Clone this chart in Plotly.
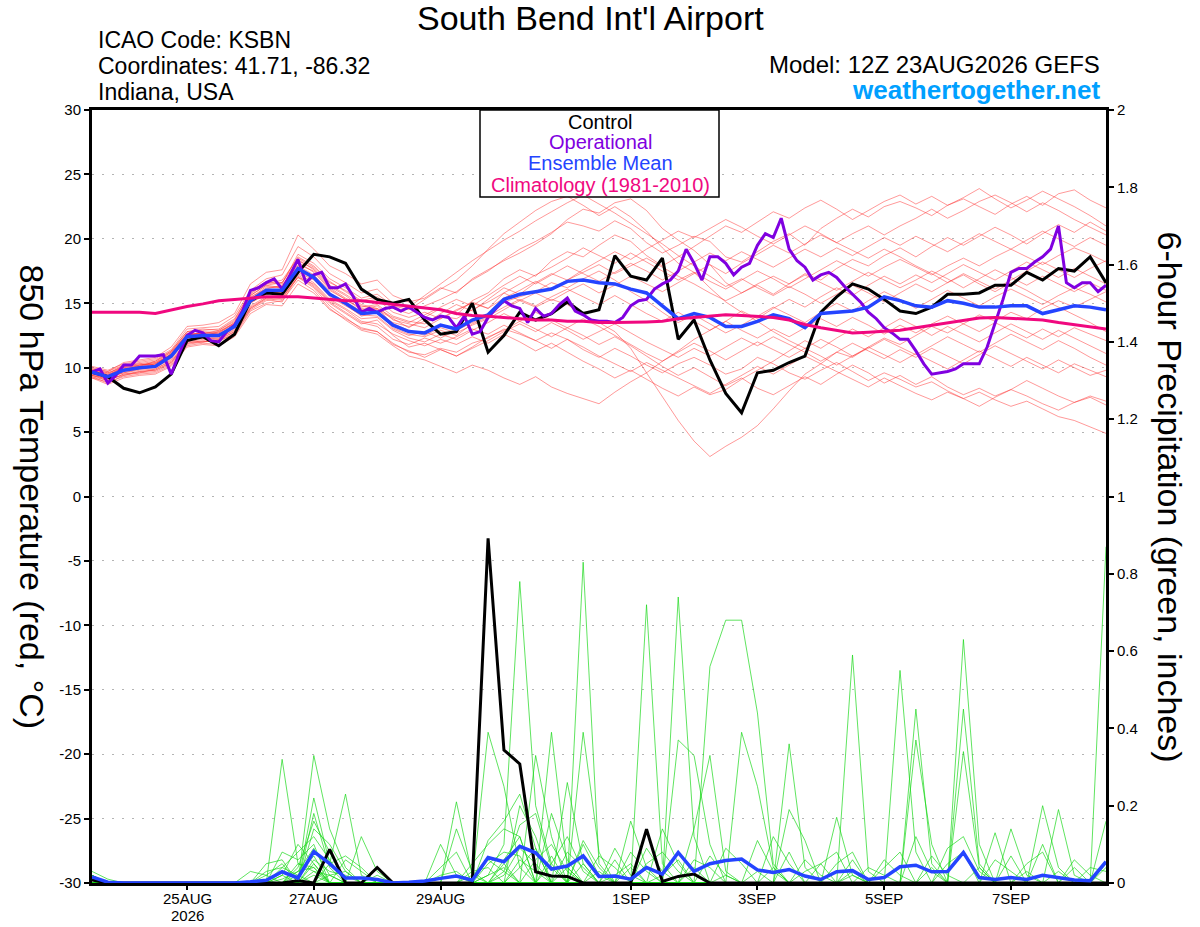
import pandas as pd
import plotly.graph_objects as go

times = pd.date_range("2026-08-23 12:00", periods=65, freq="6h")
times_op = pd.date_range("2026-08-23 12:00", periods=129, freq="3h")

# 850 hPa temperature (C), ensemble members
t_members = [
    [9.8, 9.5, 10.2, 10.4, 10.6, 11.3, 12.8, 12.9, 13.0, 13.8, 15.8, 16.5, 16.8,
     18.5, 17.8, 16.6, 16.0, 15.2, 15.5, 14.6, 14.2, 14.8, 15.3, 15.9, 16.8, 17.5,
     18.4, 19.2, 19.8, 20.5, 21.3, 21.0, 20.6, 21.4, 20.8, 19.7, 18.9, 19.5, 20.2,
     19.8, 18.6, 18.2, 19.0, 19.8, 20.4, 19.5, 20.8, 21.6, 22.3, 21.7, 22.5, 22.9,
     22.4, 21.8, 22.6, 23.1, 22.5, 21.9, 22.7, 23.3, 22.6, 23.5, 23.8, 23.0, 22.4],
    [9.4, 9.0, 9.5, 9.7, 9.8, 10.4, 11.8, 12.0, 12.1, 12.6, 14.5, 15.2, 15.4,
     17.0, 16.2, 14.8, 13.9, 13.0, 12.8, 11.9, 11.2, 11.0, 11.5, 11.2, 11.9, 12.3,
     13.0, 12.6, 12.1, 12.7, 12.2, 11.4, 10.8, 11.5, 10.9, 10.2, 9.6, 10.3, 10.8,
     10.2, 9.5, 9.9, 10.8, 10.3, 9.6, 9.1, 9.8, 10.4, 9.7, 9.0, 9.6, 9.1,
     8.5, 8.9, 8.2, 7.6, 8.1, 7.5, 7.0, 7.4, 6.8, 6.2, 5.9, 5.4, 4.9],
    [9.7, 9.2, 9.9, 10.1, 10.3, 11.0, 12.6, 12.4, 12.8, 13.4, 15.4, 16.3, 16.2,
     18.2, 17.4, 16.1, 15.3, 14.6, 14.2, 13.5, 13.2, 13.6, 14.0, 13.8, 14.5, 15.1,
     15.8, 15.2, 14.7, 15.3, 14.9, 14.1, 13.5, 12.8, 11.5, 9.6, 7.8, 5.9, 4.3,
     3.1, 3.9, 4.6, 5.5, 6.8, 8.2, 9.5, 10.3, 11.2, 10.8, 11.6, 12.3, 11.8,
     12.5, 13.2, 12.7, 13.4, 14.1, 13.6, 14.3, 13.8, 14.6, 15.2, 14.7, 15.3, 15.9],
    [10.0, 9.7, 10.4, 10.6, 10.8, 11.6, 13.2, 13.3, 13.5, 14.2, 16.5, 17.4, 17.6,
     20.3, 19.2, 17.9, 17.3, 16.5, 16.8, 15.6, 15.1, 15.4, 16.2, 15.8, 16.9, 17.6,
     18.3, 18.9, 19.6, 20.4, 21.5, 22.3, 22.0, 22.8, 23.1, 22.2, 20.8, 19.9, 19.1,
     18.0, 16.6, 15.8, 16.4, 15.7, 16.5, 17.3, 16.8, 17.7, 18.4, 17.9, 18.7, 19.3,
     18.6, 19.4, 20.1, 19.5, 20.2, 20.9, 20.3, 19.6, 20.4, 21.1, 20.5, 21.3, 20.6],
    [9.3, 8.8, 9.4, 9.6, 9.7, 10.3, 11.9, 12.1, 12.0, 12.7, 14.6, 15.3, 15.1,
     17.1, 16.3, 15.0, 14.2, 13.4, 13.7, 12.5, 11.6, 11.9, 11.4, 10.9, 11.6, 12.4,
     12.9, 13.6, 13.0, 12.4, 13.1, 12.5, 11.8, 12.4, 11.7, 10.9, 10.1, 9.4, 10.0,
     9.3, 8.6, 9.2, 8.4, 7.9, 8.6, 9.3, 8.7, 9.5, 10.2, 9.6, 8.8, 9.4,
     8.7, 9.3, 8.5, 7.9, 8.4, 7.8, 8.3, 9.0, 8.4, 7.8, 7.3, 7.7, 7.1],
    [9.9, 9.6, 10.1, 10.3, 10.2, 11.1, 12.5, 12.7, 12.6, 13.3, 15.5, 16.1, 16.4,
     18.0, 17.5, 16.2, 15.4, 14.8, 14.5, 13.8, 13.1, 13.9, 14.6, 14.1, 15.2, 15.8,
     16.9, 17.6, 17.1, 18.3, 19.0, 18.6, 19.5, 20.3, 19.8, 18.7, 17.9, 18.6, 19.4,
     20.2, 21.0, 20.5, 21.3, 22.1, 21.6, 22.4, 23.0, 22.3, 21.5, 22.2, 22.9, 23.4,
     22.7, 23.3, 22.6, 23.2, 23.9, 23.1, 22.4, 23.0, 23.7, 23.1, 22.5, 21.8, 21.0],
    [9.5, 9.1, 9.7, 9.9, 10.0, 10.7, 12.2, 12.3, 12.2, 13.0, 15.0, 15.7, 15.9,
     17.4, 16.8, 15.6, 14.9, 14.0, 14.3, 13.1, 12.6, 12.4, 12.9, 12.5, 13.4, 13.9,
     15.1, 15.5, 15.9, 16.6, 16.2, 16.9, 17.5, 16.8, 15.9, 15.2, 14.3, 13.5, 14.1,
     13.4, 12.7, 13.3, 14.0, 14.7, 14.1, 13.5, 14.3, 15.0, 14.4, 15.2, 15.9, 15.3,
     14.6, 15.3, 16.0, 15.4, 14.8, 15.5, 16.1, 15.5, 14.9, 15.6, 16.2, 15.7, 15.1],
    [9.6, 9.4, 9.8, 10.2, 10.4, 11.2, 12.7, 12.6, 12.9, 13.6, 15.7, 16.6, 16.5,
     18.8, 18.1, 16.9, 16.2, 15.4, 15.7, 14.8, 14.5, 15.3, 16.1, 16.8, 17.9, 19.2,
     20.4, 21.3, 22.2, 22.9, 23.3, 22.6, 21.8, 22.5, 21.7, 20.6, 19.3, 18.1, 17.4,
     16.2, 15.1, 14.3, 13.6, 12.8, 12.1, 11.5, 12.2, 11.6, 10.9, 11.5, 12.2, 11.6,
     11.0, 11.7, 12.4, 11.8, 11.2, 11.9, 12.6, 12.0, 11.4, 12.1, 11.5, 10.8, 10.2],
    [9.2, 8.9, 9.3, 9.5, 9.6, 10.2, 11.7, 11.9, 11.8, 12.5, 14.4, 15.0, 15.2,
     16.8, 16.0, 14.6, 13.7, 12.9, 12.6, 11.7, 10.9, 10.6, 10.1, 9.6, 10.2, 9.8,
     9.2, 8.7, 9.3, 8.5, 8.0, 7.6, 7.2, 8.1, 8.9, 9.6, 10.5, 11.3, 12.2,
     12.9, 13.6, 14.4, 13.8, 14.6, 15.3, 14.7, 15.5, 16.2, 15.6, 16.4, 17.1, 16.5,
     17.2, 16.6, 17.3, 18.0, 17.4, 16.8, 17.5, 18.2, 17.6, 17.0, 17.7, 17.1, 16.5],
    [9.8, 9.6, 10.0, 10.2, 10.4, 11.0, 12.4, 12.8, 12.7, 13.5, 15.3, 16.2, 16.3,
     17.9, 17.2, 16.0, 15.3, 14.5, 14.8, 13.7, 13.4, 13.1, 13.8, 14.4, 15.1, 14.6,
     15.8, 16.5, 17.2, 17.8, 18.5, 19.3, 18.7, 18.1, 18.9, 18.2, 17.5, 16.8, 17.4,
     16.7, 16.1, 16.8, 17.5, 16.9, 16.2, 16.9, 17.6, 18.3, 17.7, 17.1, 17.8, 18.4,
     17.8, 17.2, 17.9, 18.5, 17.9, 18.6, 19.2, 18.6, 18.0, 18.7, 19.3, 18.8, 18.2],
    [9.4, 9.2, 9.6, 9.8, 9.9, 10.6, 12.0, 12.2, 12.3, 12.9, 14.8, 15.5, 15.6,
     17.3, 16.6, 15.3, 14.6, 13.8, 13.9, 12.9, 12.3, 12.0, 12.6, 12.2, 12.9, 13.5,
     14.2, 13.6, 14.3, 13.7, 13.1, 13.8, 13.2, 12.5, 11.8, 11.1, 10.5, 11.2, 11.9,
     11.3, 10.6, 11.3, 12.0, 11.4, 10.8, 11.5, 10.9, 10.2, 10.9, 11.6, 11.0, 10.4,
     11.1, 10.5, 9.9, 10.6, 11.3, 10.7, 10.1, 10.8, 10.2, 9.6, 10.3, 9.8, 9.3],
    [9.7, 9.4, 10.0, 10.1, 10.5, 11.2, 12.6, 12.5, 12.7, 13.4, 15.6, 16.4, 16.2,
     18.4, 17.6, 16.3, 15.6, 14.7, 14.9, 14.0, 13.6, 13.4, 14.2, 14.9, 14.4, 15.3,
     16.2, 15.7, 16.6, 17.3, 16.8, 17.6, 18.3, 19.0, 18.4, 19.2, 19.9, 20.6, 20.1,
     20.8, 21.5, 20.9, 20.2, 19.6, 20.3, 21.0, 20.4, 19.7, 19.1, 18.5, 19.2, 18.6,
     17.9, 17.3, 16.6, 17.2, 16.5, 15.9, 16.6, 16.0, 15.3, 14.7, 14.1, 13.5, 12.8],
    [9.3, 9.0, 9.5, 9.6, 9.9, 10.5, 11.9, 12.0, 12.2, 12.8, 14.7, 15.4, 15.3,
     17.2, 16.4, 15.1, 14.3, 13.5, 13.2, 12.2, 11.8, 12.3, 11.9, 12.4, 13.0, 12.6,
     13.3, 12.7, 12.1, 11.5, 12.2, 11.6, 10.9, 10.3, 9.7, 10.4, 9.8, 9.2, 8.6,
     8.0, 8.7, 9.4, 10.1, 9.5, 10.2, 10.9, 10.3, 9.7, 9.1, 8.5, 9.2, 8.6,
     8.0, 7.5, 8.1, 7.6, 7.0, 7.7, 8.3, 7.8, 7.2, 6.7, 7.3, 7.8, 7.4],
    [10.1, 9.8, 10.3, 10.5, 10.7, 11.4, 13.0, 13.1, 13.2, 14.0, 16.0, 16.9, 17.2,
     19.4, 18.6, 17.3, 16.6, 15.8, 16.1, 15.0, 14.7, 15.6, 16.5, 17.4, 18.3, 19.1,
     19.9, 20.6, 21.4, 22.1, 22.8, 23.4, 22.7, 22.0, 21.2, 20.4, 19.6, 18.7, 17.9,
     17.1, 16.3, 16.9, 16.2, 15.6, 16.3, 15.7, 15.0, 15.7, 16.4, 15.8, 15.1, 15.8,
     16.5, 15.9, 16.6, 17.3, 16.7, 16.1, 16.8, 17.5, 18.2, 17.6, 17.0, 17.7, 18.3],
    [9.5, 9.3, 9.6, 9.9, 10.1, 10.8, 12.3, 12.4, 12.3, 13.1, 15.1, 15.8, 15.8,
     17.5, 16.9, 15.5, 14.8, 14.1, 14.0, 13.0, 12.5, 12.8, 12.3, 12.9, 13.5, 14.0,
     14.7, 15.3, 14.8, 15.5, 16.1, 15.5, 14.9, 15.6, 14.9, 14.2, 13.6, 14.3, 13.6,
     12.9, 13.6, 12.9, 12.3, 13.0, 12.4, 13.1, 13.8, 13.2, 13.9, 13.3, 12.6, 13.3,
     12.7, 13.4, 14.0, 13.4, 12.8, 13.5, 12.9, 12.3, 13.0, 12.4, 13.1, 12.6, 12.1],
    [9.6, 9.5, 9.9, 10.0, 10.3, 11.0, 12.5, 12.6, 12.6, 13.3, 15.2, 16.0, 16.1,
     17.6, 17.1, 15.8, 15.1, 14.4, 14.6, 13.4, 12.9, 12.5, 13.1, 12.7, 13.3, 13.8,
     14.5, 15.2, 15.8, 15.2, 15.9, 16.5, 15.8, 16.4, 17.1, 16.5, 15.9, 16.6, 17.3,
     18.0, 17.3, 18.1, 18.8, 19.5, 18.9, 19.6, 20.3, 19.7, 20.4, 21.0, 20.3, 21.0,
     21.6, 22.3, 21.6, 22.2, 22.9, 23.4, 22.8, 22.1, 22.8, 22.2, 21.5, 20.9, 20.3],
    [9.4, 9.1, 9.4, 9.7, 9.8, 10.4, 12.1, 12.0, 12.1, 12.8, 14.6, 15.4, 15.5,
     17.0, 16.5, 15.2, 14.5, 13.6, 13.4, 12.6, 12.1, 11.7, 12.2, 11.8, 12.4, 11.9,
     12.6, 12.0, 11.3, 11.9, 11.2, 10.5, 9.9, 9.2, 9.8, 9.1, 8.4, 7.8, 8.5,
     7.9, 8.3, 9.1, 9.8, 10.5, 11.3, 12.1, 11.5, 12.3, 13.0, 12.4, 13.1, 13.8,
     13.2, 12.5, 13.2, 12.6, 12.0, 12.7, 13.4, 12.8, 12.2, 12.9, 12.3, 11.7, 11.1],
    [9.9, 9.7, 10.2, 10.3, 10.5, 11.3, 12.8, 13.0, 12.9, 13.7, 15.9, 16.7, 16.6,
     18.6, 17.9, 16.7, 15.9, 15.1, 15.3, 14.3, 13.9, 14.3, 13.8, 14.5, 15.0, 14.6,
     15.4, 16.0, 16.7, 16.1, 16.8, 17.4, 18.0, 17.3, 17.9, 18.5, 17.8, 17.1, 16.5,
     15.8, 15.2, 15.8, 16.5, 17.1, 16.5, 17.2, 16.6, 16.0, 16.7, 17.4, 16.8, 16.2,
     16.8, 17.5, 16.9, 16.2, 16.9, 17.6, 17.0, 16.4, 17.1, 16.5, 15.9, 16.6, 16.0],
    [9.2, 8.7, 9.2, 9.4, 9.5, 10.1, 11.6, 11.8, 11.7, 12.4, 14.2, 14.9, 14.8,
     16.5, 15.8, 14.5, 13.8, 13.1, 12.8, 11.8, 11.3, 10.8, 11.4, 10.9, 11.5, 12.1,
     12.8, 13.4, 12.8, 13.5, 12.9, 12.2, 12.8, 13.4, 12.7, 12.0, 11.4, 10.8, 11.5,
     10.9, 11.6, 12.3, 11.7, 12.4, 11.8, 11.2, 10.5, 11.2, 11.9, 11.3, 10.7, 11.4,
     10.8, 11.5, 10.9, 10.3, 11.0, 11.7, 11.1, 10.5, 9.9, 10.6, 10.0, 9.4, 9.8],
    [9.8, 9.4, 10.1, 10.2, 10.3, 11.1, 12.6, 12.7, 12.8, 13.5, 15.6, 16.4, 16.6,
     18.3, 17.7, 16.4, 15.7, 14.9, 14.6, 13.9, 13.5, 14.1, 14.7, 15.3, 14.8, 15.6,
     16.4, 17.1, 16.5, 17.2, 17.9, 17.3, 16.7, 17.4, 18.1, 17.5, 16.8, 17.5, 18.2,
     18.9, 18.3, 19.0, 18.4, 17.8, 18.5, 19.2, 18.6, 19.3, 18.7, 19.4, 20.1, 19.5,
     20.2, 19.6, 19.0, 19.7, 20.4, 19.8, 19.2, 19.9, 20.6, 20.0, 19.4, 20.1, 19.5],
]

# 6-hour precipitation (inches), ensemble members
p_members = [
    [0.03, 0.01, 0, 0, 0, 0, 0, 0, 0, 0, 0, 0, 0.32,
     0.05, 0.04, 0, 0, 0, 0, 0, 0, 0, 0, 0, 0, 0.02,
     0.1, 0.78, 0.2, 0.05, 0, 0, 0, 0, 0, 0, 0, 0, 0,
     0, 0.02, 0, 0, 0, 0, 0, 0, 0, 0.06, 0, 0, 0,
     0, 0, 0, 0.63, 0.1, 0, 0, 0, 0, 0, 0, 0, 0],
    [0.02, 0, 0, 0, 0, 0, 0, 0, 0, 0, 0, 0, 0,
     0, 0.33, 0.14, 0.04, 0, 0, 0, 0, 0, 0, 0.21, 0.02, 0,
     0, 0, 0, 0, 0, 0.83, 0.05, 0, 0, 0, 0, 0, 0,
     0, 0, 0, 0, 0, 0.36, 0.04, 0, 0, 0, 0, 0, 0,
     0, 0, 0, 0, 0, 0, 0, 0, 0, 0, 0, 0, 0.87],
    [0.01, 0, 0, 0, 0, 0, 0, 0, 0, 0, 0, 0.05, 0.06,
     0, 0.22, 0.05, 0.23, 0.02, 0, 0, 0, 0, 0, 0, 0, 0.39,
     0.25, 0.04, 0, 0, 0, 0, 0, 0, 0, 0.72, 0.05, 0, 0,
     0, 0, 0, 0, 0, 0, 0, 0, 0, 0, 0, 0, 0.55,
     0.08, 0, 0, 0, 0, 0, 0, 0, 0, 0, 0, 0, 0],
    [0, 0, 0, 0, 0, 0, 0, 0, 0, 0, 0, 0, 0,
     0.04, 0.16, 0.08, 0, 0.12, 0.03, 0, 0, 0, 0, 0, 0, 0,
     0, 0, 0.33, 0.12, 0, 0, 0, 0, 0, 0, 0, 0.74, 0.12,
     0, 0, 0, 0, 0, 0, 0, 0, 0, 0, 0, 0, 0,
     0.45, 0.05, 0, 0, 0, 0, 0, 0, 0.2, 0.04, 0, 0, 0],
    [0.02, 0, 0, 0, 0, 0, 0, 0, 0, 0, 0, 0, 0.08,
     0.06, 0.1, 0, 0, 0, 0, 0, 0, 0, 0.1, 0.02, 0, 0,
     0, 0, 0, 0.39, 0.04, 0, 0, 0, 0, 0, 0, 0, 0,
     0.56, 0.68, 0.68, 0.44, 0.05, 0, 0, 0, 0, 0.02, 0, 0, 0,
     0, 0, 0, 0, 0, 0, 0, 0, 0, 0, 0, 0, 0],
    [0, 0, 0, 0, 0, 0, 0, 0, 0, 0, 0.03, 0.02, 0,
     0, 0.14, 0.1, 0.03, 0, 0, 0, 0, 0, 0, 0.14, 0.03, 0,
     0, 0.2, 0.12, 0, 0, 0.39, 0.08, 0, 0, 0, 0, 0, 0,
     0, 0, 0, 0, 0, 0, 0, 0, 0, 0.59, 0.03, 0, 0,
     0, 0, 0, 0, 0, 0.13, 0, 0, 0, 0, 0, 0, 0],
    [0, 0, 0, 0, 0, 0, 0, 0, 0, 0, 0, 0, 0.04,
     0.08, 0.12, 0.06, 0, 0, 0, 0, 0, 0, 0, 0, 0, 0,
     0.06, 0.12, 0, 0, 0.26, 0.05, 0, 0, 0, 0, 0, 0, 0,
     0, 0, 0.39, 0.25, 0.04, 0, 0, 0, 0, 0, 0, 0, 0,
     0, 0, 0, 0.45, 0.05, 0, 0, 0, 0, 0, 0, 0, 0.16],
    [0, 0, 0, 0, 0, 0, 0, 0, 0, 0, 0, 0.02, 0.05,
     0, 0.18, 0.04, 0, 0, 0.02, 0, 0, 0, 0, 0, 0, 0.11,
     0.16, 0.23, 0.09, 0, 0, 0, 0, 0, 0.16, 0.04, 0, 0.37, 0.33,
     0.1, 0, 0, 0, 0, 0, 0, 0, 0.17, 0.02, 0, 0, 0,
     0, 0, 0, 0, 0, 0, 0, 0, 0, 0.19, 0.02, 0, 0],
    [0, 0, 0, 0, 0, 0, 0, 0, 0, 0, 0, 0, 0,
     0.03, 0.09, 0.02, 0, 0, 0, 0, 0, 0, 0.04, 0.08, 0, 0,
     0, 0, 0, 0.18, 0.06, 0, 0, 0.09, 0.02, 0, 0.14, 0.05, 0,
     0, 0, 0, 0, 0, 0.19, 0.11, 0, 0, 0, 0, 0, 0,
     0.37, 0.1, 0, 0, 0, 0, 0.14, 0.02, 0, 0, 0, 0, 0],
    [0, 0, 0, 0, 0, 0, 0, 0, 0, 0, 0, 0, 0,
     0, 0.06, 0.03, 0.02, 0, 0, 0, 0, 0, 0, 0, 0.05, 0.1,
     0.14, 0.12, 0, 0, 0, 0.1, 0.02, 0, 0, 0, 0, 0, 0.14,
     0.33, 0.03, 0, 0, 0, 0, 0, 0, 0, 0, 0, 0, 0,
     0, 0, 0, 0.34, 0.04, 0, 0, 0, 0, 0, 0, 0, 0],
    [0.02, 0, 0, 0, 0, 0, 0, 0, 0, 0, 0, 0, 0.02,
     0.1, 0.05, 0, 0, 0, 0, 0, 0, 0, 0, 0, 0, 0,
     0.03, 0.15, 0.18, 0.04, 0, 0, 0, 0, 0.08, 0.03, 0, 0, 0,
     0, 0, 0, 0, 0.12, 0.05, 0, 0, 0, 0, 0, 0.04, 0.08,
     0, 0, 0, 0, 0, 0, 0, 0, 0.1, 0, 0, 0, 0],
    [0, 0, 0, 0, 0, 0, 0, 0, 0, 0, 0, 0, 0,
     0, 0.03, 0.02, 0, 0, 0, 0, 0, 0, 0, 0, 0, 0.05,
     0.08, 0.07, 0, 0, 0, 0.11, 0.04, 0, 0, 0, 0, 0, 0,
     0, 0, 0, 0.11, 0.03, 0, 0, 0, 0.05, 0.08, 0, 0, 0,
     0, 0, 0, 0, 0, 0, 0, 0, 0, 0, 0.06, 0.02, 0],
    [0, 0, 0, 0, 0, 0, 0, 0, 0, 0, 0, 0, 0.01,
     0.03, 0.04, 0, 0, 0, 0, 0, 0, 0, 0, 0, 0, 0,
     0, 0, 0.06, 0.1, 0.03, 0, 0, 0, 0, 0.05, 0.08, 0.03, 0,
     0, 0, 0, 0, 0, 0, 0.06, 0.02, 0, 0, 0, 0, 0,
     0, 0, 0.09, 0.12, 0.03, 0, 0, 0, 0, 0, 0, 0, 0],
    [0.01, 0, 0, 0, 0, 0, 0, 0, 0, 0, 0, 0, 0,
     0, 0, 0.05, 0.07, 0.04, 0, 0, 0, 0, 0, 0, 0, 0,
     0.02, 0.09, 0.05, 0, 0, 0, 0.07, 0.04, 0, 0, 0, 0, 0,
     0, 0.09, 0.05, 0, 0, 0, 0, 0, 0, 0, 0, 0, 0,
     0, 0.07, 0.02, 0, 0, 0, 0, 0.05, 0.08, 0, 0, 0, 0],
    [0, 0, 0, 0, 0, 0, 0, 0, 0, 0, 0, 0, 0,
     0.02, 0.07, 0, 0, 0, 0, 0, 0, 0, 0, 0, 0.03, 0.04,
     0, 0, 0, 0.05, 0.12, 0.03, 0, 0, 0, 0, 0, 0, 0.06,
     0.04, 0, 0, 0, 0, 0, 0, 0, 0, 0, 0.04, 0.02, 0,
     0, 0, 0, 0, 0, 0.06, 0.03, 0, 0, 0, 0, 0.04, 0.03],
    [0, 0, 0, 0, 0, 0, 0, 0, 0, 0, 0, 0.03, 0.04,
     0.02, 0, 0, 0, 0, 0, 0, 0, 0, 0, 0, 0, 0,
     0, 0.04, 0.09, 0, 0, 0, 0, 0.02, 0.05, 0, 0, 0, 0,
     0, 0, 0, 0.03, 0, 0, 0, 0.05, 0.08, 0, 0, 0, 0,
     0, 0, 0, 0, 0.04, 0, 0, 0, 0, 0, 0, 0, 0.05],
    [0, 0, 0, 0, 0, 0, 0, 0, 0, 0, 0, 0, 0,
     0, 0.02, 0, 0.06, 0.03, 0, 0, 0, 0, 0.02, 0.03, 0, 0,
     0.05, 0, 0, 0, 0.08, 0.04, 0, 0, 0, 0, 0.02, 0.06, 0,
     0, 0, 0, 0, 0, 0.08, 0, 0, 0, 0, 0, 0, 0,
     0.12, 0.03, 0, 0, 0, 0, 0, 0, 0, 0.03, 0, 0, 0],
    [0.02, 0, 0, 0, 0, 0, 0, 0, 0, 0, 0, 0, 0,
     0.05, 0.03, 0, 0, 0, 0, 0, 0, 0, 0, 0, 0, 0.02,
     0.04, 0, 0, 0.07, 0, 0, 0.03, 0, 0, 0.09, 0.03, 0, 0,
     0, 0, 0, 0, 0.04, 0, 0, 0, 0, 0, 0, 0.06, 0.02,
     0, 0, 0, 0, 0, 0, 0.07, 0, 0, 0, 0, 0, 0],
    [0, 0, 0, 0, 0, 0, 0, 0, 0, 0, 0, 0, 0,
     0, 0, 0.02, 0.03, 0, 0, 0, 0, 0, 0, 0, 0, 0,
     0, 0.06, 0.03, 0, 0, 0.05, 0, 0, 0.04, 0, 0, 0, 0,
     0.07, 0.02, 0, 0, 0, 0, 0, 0, 0, 0.03, 0, 0, 0,
     0, 0, 0.05, 0.08, 0, 0, 0, 0, 0, 0, 0.04, 0, 0],
    [0, 0, 0, 0, 0, 0, 0, 0, 0, 0, 0, 0, 0.02,
     0, 0.05, 0, 0, 0, 0, 0, 0, 0, 0, 0, 0.02, 0.06,
     0.03, 0, 0, 0, 0.04, 0, 0, 0.06, 0, 0, 0, 0, 0.04,
     0, 0, 0, 0, 0, 0, 0.03, 0.05, 0, 0, 0, 0, 0,
     0, 0.04, 0, 0, 0, 0, 0, 0.03, 0, 0, 0, 0, 0.04],
]

t_control = [9.65, 9.3, 8.4, 8.05, 8.5, 9.5, 12.1, 12.4, 11.7, 12.6, 15.2, 15.8, 15.7,
             17.4, 18.8, 18.6, 18.1, 16.1, 15.3, 15.0, 15.3, 13.7, 12.6, 12.8, 15.0, 11.2,
             12.5, 14.3, 13.7, 14.2, 15.1, 14.2, 14.5, 18.7, 17.1, 16.8, 18.5, 12.2, 13.7,
             10.6, 8.0, 6.5, 9.6, 9.8, 10.4, 10.9, 14.3, 15.5, 16.5, 16.1, 15.3, 14.4, 14.2,
             14.7, 15.7, 15.7, 15.8, 16.4, 16.4, 17.4, 16.8, 17.7, 17.5, 18.6, 16.6]

t_mean = [9.65, 9.3, 9.8, 10.0, 10.1, 10.9, 12.4, 12.5, 12.5, 13.2, 15.2, 16.0, 16.0,
          17.7, 17.0, 15.7, 15.0, 14.2, 14.3, 13.3, 12.8, 12.7, 13.3, 13.0, 13.7, 14.1,
          15.3, 15.7, 15.9, 16.1, 16.7, 16.8, 16.6, 16.5, 16.1, 15.8, 14.8, 13.8, 14.2,
          13.9, 13.2, 13.2, 13.6, 14.1, 13.8, 13.1, 14.2, 14.3, 14.4, 14.7, 15.5, 15.2,
          14.8, 14.7, 15.2, 15.0, 14.7, 14.7, 14.8, 14.8, 14.2, 14.5, 14.8, 14.7, 14.5]

t_clim = [14.3, 14.3, 14.3, 14.3, 14.2, 14.5, 14.75, 14.95, 15.2, 15.3, 15.4, 15.5, 15.5,
          15.5, 15.4, 15.3, 15.2, 15.2, 15.05, 14.9, 14.8, 14.6, 14.5, 14.2, 14.05, 14.0,
          13.9, 13.85, 13.7, 13.7, 13.6, 13.6, 13.5, 13.5, 13.5, 13.55, 13.6, 13.8, 13.9,
          14.0, 14.1, 14.05, 13.95, 13.9, 13.7, 13.35, 13.1, 12.9, 12.7, 12.75, 12.8, 12.9,
          13.1, 13.3, 13.45, 13.7, 13.85, 13.9, 13.85, 13.8, 13.7, 13.5, 13.35, 13.2, 13.0]

# operational run, 3-hourly
t_oper = [9.65, 9.9, 8.8, 9.4, 10.2, 10.2, 10.9, 10.9, 10.9, 11.0, 9.5, 11.1, 12.5,
          12.9, 12.7, 12.1, 12.0, 12.8, 13.3, 14.4, 16.0, 16.2, 16.6, 16.9, 16.1, 17.2,
          18.4, 16.6, 17.2, 17.4, 16.2, 16.2, 16.5, 15.5, 14.3, 14.6, 14.3, 14.6, 14.7,
          14.4, 14.7, 14.3, 13.9, 13.7, 14.0, 13.9, 13.1, 14.0, 12.6, 12.8, 13.9, 14.6,
          15.2, 14.8, 14.6, 13.5, 14.6, 14.0, 14.2, 14.9, 15.4, 14.4, 14.1, 13.7, 13.6,
          13.6, 13.5, 13.9, 14.8, 15.2, 15.3, 16.1, 16.5, 16.8, 17.5, 19.2, 18.1, 16.8,
          18.6, 18.6, 18.1, 17.2, 17.8, 18.1, 19.5, 20.4, 20.1, 21.6, 19.2, 18.3, 17.8,
          16.8, 17.2, 17.4, 17.0, 16.3, 15.7, 15.1, 14.3, 13.8, 13.1, 12.7, 12.2, 12.2,
          11.3, 10.3, 9.5, 9.6, 9.7, 9.9, 10.3, 10.3, 10.3, 11.6, 13.4, 15.3, 17.4,
          17.7, 17.7, 18.2, 18.6, 19.2, 21.0, 16.6, 16.2, 16.6, 16.6, 15.9, 16.4]

p_control = [0.008, 0, 0, 0, 0, 0, 0, 0, 0, 0, 0, 0, 0,
             0.006, 0, 0.087, 0, 0, 0.04, 0, 0, 0, 0, 0, 0, 0.892,
             0.344, 0.308, 0.029, 0.018, 0.017, 0, 0, 0, 0, 0.139, 0.004, 0.017, 0.023,
             0, 0, 0, 0, 0, 0, 0, 0, 0, 0, 0, 0, 0,
             0, 0, 0, 0, 0, 0, 0, 0, 0, 0, 0, 0, 0]

p_mean = [0.016, 0.002, 0, 0, 0, 0, 0, 0, 0, 0, 0.003, 0.007, 0.029,
          0.013, 0.081, 0.05, 0.013, 0.013, 0.009, 0, 0.002, 0.005, 0.012, 0.018, 0.007, 0.066,
          0.055, 0.095, 0.078, 0.036, 0.044, 0.07, 0.017, 0.018, 0.01, 0.04, 0.023, 0.079, 0.03,
          0.05, 0.058, 0.062, 0.034, 0.027, 0.035, 0.018, 0.009, 0.029, 0.032, 0.009, 0.014, 0.042,
          0.046, 0.029, 0.03, 0.079, 0.014, 0.009, 0.014, 0.009, 0.02, 0.014, 0.008, 0.006, 0.055]

tick_dates = ["2026-08-25", "2026-08-27", "2026-08-29", "2026-09-01",
              "2026-09-03", "2026-09-05", "2026-09-07"]
tick_labels = ["25AUG", "27AUG", "29AUG", "1SEP", "3SEP", "5SEP", "7SEP"]
year_label = "2026"
temp_ticks = [-30, -25, -20, -15, -10, -5, 0, 5, 10, 15, 20, 25, 30]
temp_tick_text = ["-30", "-25", "-20", "-15", "-10", "-5", "0",
                  "5", "10", "15", "20", "25", "30"]

# ---- figure ----
W, H = 1200, 927
L, R, T, B = 92, 94, 110, 44
FONT = "Liberation Sans, Arial, sans-serif"


def px(x):
    return (x - L) / (W - L - R)


def py(y):
    return (H - B - y) / (H - T - B)


fig = go.Figure()

for m in t_members:
    fig.add_trace(go.Scatter(x=times, y=m, mode="lines",
                             line=dict(color="rgba(255,40,40,0.6)", width=0.8),
                             hoverinfo="skip"))
for m in p_members:
    fig.add_trace(go.Scatter(x=times, y=m, mode="lines", yaxis="y2",
                             line=dict(color="rgba(20,215,20,0.85)", width=0.8),
                             hoverinfo="skip"))

fig.add_trace(go.Scatter(x=times, y=p_control, mode="lines", yaxis="y2",
                         line=dict(color="black", width=3)))
fig.add_trace(go.Scatter(x=times, y=p_mean, mode="lines", yaxis="y2",
                         line=dict(color="#2444ff", width=3.5)))
fig.add_trace(go.Scatter(x=times, y=t_control, mode="lines",
                         line=dict(color="black", width=3)))
fig.add_trace(go.Scatter(x=times_op, y=t_oper, mode="lines",
                         line=dict(color="#8000e0", width=3)))
fig.add_trace(go.Scatter(x=times, y=t_mean, mode="lines",
                         line=dict(color="#2444ff", width=3.5)))
fig.add_trace(go.Scatter(x=times, y=t_clim, mode="lines",
                         line=dict(color="#f0087f", width=3)))

axis_font = dict(family=FONT, size=15, color="black")

fig.update_layout(
    width=W, height=H,
    margin=dict(l=L, r=R, t=T, b=B, autoexpand=False),
    paper_bgcolor="white", plot_bgcolor="white",
    showlegend=False,
    font=dict(family=FONT, color="black"),
    xaxis=dict(
        range=[times[0], times[-1]], automargin=False,
        tickvals=pd.to_datetime(tick_dates), showticklabels=False,
        ticks="outside", ticklen=4, tickwidth=1.5, tickcolor="black",
        showgrid=False, zeroline=False,
        showline=True, linecolor="black", linewidth=3, mirror=True,
    ),
    yaxis=dict(
        range=[-30, 30], tickvals=temp_ticks, ticktext=temp_tick_text,
        automargin=False,
        ticks="outside", ticklen=5, tickwidth=1.5, tickcolor="black",
        tickfont=axis_font,
        showgrid=True, gridcolor="#b4b4b4", gridwidth=1, griddash="2px,8px",
        zeroline=False, showline=True, linecolor="black", linewidth=3,
    ),
    yaxis2=dict(
        range=[0, 2], dtick=0.2, tick0=0, overlaying="y", side="right",
        automargin=False,
        ticks="outside", ticklen=5, tickwidth=1.5, tickcolor="black",
        tickfont=axis_font, showgrid=False, zeroline=False,
        showline=True, linecolor="black", linewidth=3,
    ),
)

# date labels under the axis (two-line spacing tighter than plotly's own)
for d, lab in zip(tick_dates, tick_labels):
    fig.add_annotation(text=lab, x=pd.Timestamp(d), xref="x", yref="paper",
                       y=py(898), yanchor="middle", showarrow=False,
                       font=axis_font)
fig.add_annotation(text=year_label, x=pd.Timestamp(tick_dates[0]), xref="x",
                   yref="paper", y=py(915), yanchor="middle", showarrow=False,
                   font=axis_font)

ann = [
    dict(text="South Bend Int'l Airport", x=px(590), y=py(18), size=34),
    dict(text="ICAO Code: KSBN", x=px(96), y=py(40), size=23, xanchor="left"),
    dict(text="Coordinates: 41.71, -86.32", x=px(96), y=py(66), size=23, xanchor="left"),
    dict(text="Indiana, USA", x=px(96), y=py(92), size=23, xanchor="left"),
    dict(text="Model: 12Z 23AUG2026 GEFS", x=px(1102), y=py(65), size=24, xanchor="right"),
    dict(text="<b>weathertogether.net</b>", x=px(1102), y=py(90), size=26,
         xanchor="right", color="#00a0ff"),
    dict(text="Control", x=px(600), y=py(122), size=20),
    dict(text="Operational", x=px(600), y=py(142), size=20, color="#8000e0"),
    dict(text="Ensemble Mean", x=px(600), y=py(163), size=20, color="#2444ff"),
    dict(text="Climatology (1981-2010)", x=px(600), y=py(185), size=20, color="#f0087f"),
    dict(text="850 hPa Temperature (red, \u00b0C)", x=px(32), y=0.5, size=34, angle=90),
    dict(text="6-hour Precipitation (green, inches)", x=px(1170), y=0.5, size=34, angle=90),
]
for a in ann:
    fig.add_annotation(
        text=a["text"], xref="paper", yref="paper", x=a["x"], y=a["y"],
        xanchor=a.get("xanchor", "center"), yanchor="middle",
        textangle=a.get("angle", 0), showarrow=False,
        font=dict(family=FONT, size=a["size"], color=a.get("color", "black")),
    )

# legend box
fig.add_shape(type="rect", xref="paper", yref="paper",
              x0=px(480), x1=px(719), y0=py(197), y1=1,
              line=dict(color="black", width=1.5), fillcolor="white", layer="above")

# page body has an 8px default margin; drop it so the figure sits at 0,0
fig.write_html("out.html", config={"displayModeBar": False},
               post_script="document.body.style.margin='0px';")
